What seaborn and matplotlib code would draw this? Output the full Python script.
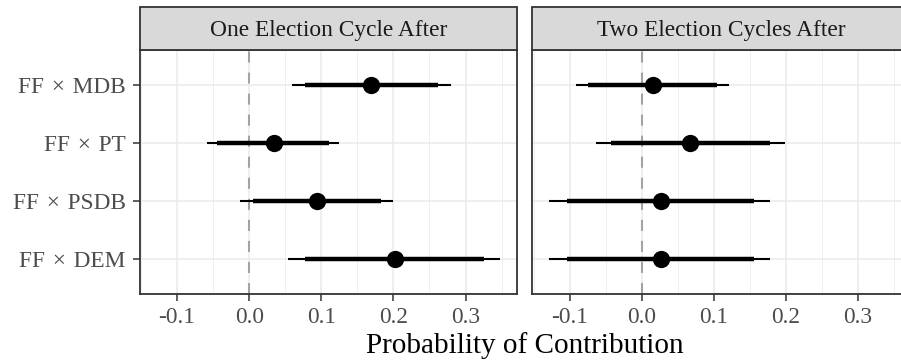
import matplotlib
matplotlib.use("Agg")
import matplotlib.pyplot as plt
import seaborn as sns
import pandas as pd
import numpy as np
from matplotlib.patches import Rectangle

# ---- data ----
categories = ["FF\u2004×\u2004MDB", "FF\u2004×\u2004PT", "FF\u2004×\u2004PSDB", "FF\u2004×\u2004DEM"]
panels = ["One Election Cycle After", "Two Election Cycles After"]

est_one = [0.169, 0.034, 0.094, 0.202]
lo_outer_one = [0.059, -0.058, -0.013, 0.054]
hi_outer_one = [0.280, 0.125, 0.200, 0.348]
lo_inner_one = [0.077, -0.044, 0.005, 0.078]
hi_inner_one = [0.262, 0.111, 0.183, 0.325]

est_two = [0.016, 0.067, 0.026, 0.026]
lo_outer_two = [-0.091, -0.064, -0.128, -0.128]
hi_outer_two = [0.121, 0.198, 0.178, 0.178]
lo_inner_two = [-0.074, -0.043, -0.103, -0.103]
hi_inner_two = [0.104, 0.178, 0.155, 0.155]

x_ticks = [-0.1, 0.0, 0.1, 0.2, 0.3]
x_ticklabels = ["-0.1", "0.0", "0.1", "0.2", "0.3"]
x_title = "Probability of Contribution"

frames = []
for p, est, lo95, hi95, lo90, hi90 in [
    (panels[0], est_one, lo_outer_one, hi_outer_one, lo_inner_one, hi_inner_one),
    (panels[1], est_two, lo_outer_two, hi_outer_two, lo_inner_two, hi_inner_two),
]:
    frames.append(pd.DataFrame({
        "panel": p, "term": categories, "pos": np.arange(len(categories)),
        "est": est, "lo95": lo95, "hi95": hi95, "lo90": lo90, "hi90": hi90,
    }))
df = pd.concat(frames, ignore_index=True)

# ---- style ----
sns.set_theme(style="white")
plt.rcParams["font.family"] = ["Liberation Serif", "DejaVu Serif"]

W, H = 901, 362
fig = plt.figure(figsize=(W / 100, H / 100), dpi=100)

panel_w = 377.6
lefts = [139.7, 532.3]
top_px, bot_px = 50.0, 294.0
strip_h = 43.3

dmin = df["lo95"].min()
dmax = df["hi95"].max()
rng = dmax - dmin
xlim = (dmin - 0.05 * rng, dmax + 0.05 * rng)

border_col = "#333333"
for i, p in enumerate(panels):
    ax = fig.add_axes([lefts[i] / W, (H - bot_px) / H, panel_w / W, (bot_px - top_px) / H])
    sub = df[df["panel"] == p]
    ax.set_xlim(*xlim)
    ax.set_ylim(len(categories) - 0.4, -0.6)

    # grid
    ax.set_xticks(x_ticks)
    ax.set_xticks(np.arange(-0.15, 0.40, 0.1), minor=True)
    ax.set_yticks(np.arange(len(categories)))
    ax.grid(which="major", color="#EBEBEB", linewidth=1.1)
    ax.grid(which="minor", axis="x", color="#EBEBEB", linewidth=0.55)
    ax.set_axisbelow(True)

    ax.axvline(0, color="#A3A3A3", linewidth=1.5, linestyle=(0, (5.3, 4.8)), zorder=1)

    ax.hlines(sub["pos"], sub["lo95"], sub["hi95"], color="black", linewidth=1.5,
              capstyle="butt", zorder=2)
    ax.hlines(sub["pos"], sub["lo90"], sub["hi90"], color="black", linewidth=3.2,
              capstyle="butt", zorder=3)
    sns.scatterplot(data=sub, x="est", y="pos", ax=ax, color="black", s=155,
                    linewidth=0, zorder=4, legend=False)

    ax.set_xlabel("")
    ax.set_ylabel("")
    ax.set_xticklabels(x_ticklabels)
    ax.tick_params(axis="x", which="major", length=5, width=1.1, color=border_col,
                   labelsize=16.8, labelcolor="#4D4D4D", pad=4.5, bottom=True)
    ax.tick_params(axis="x", which="minor", length=0)
    if i == 0:
        ax.set_yticklabels(categories)
        ax.tick_params(axis="y", length=5, width=1.1, color=border_col,
                       labelsize=16.8, labelcolor="#4D4D4D", pad=5, left=True)
    else:
        ax.set_yticklabels([])
        ax.tick_params(axis="y", length=0)

    for s in ax.spines.values():
        s.set_color(border_col)
        s.set_linewidth(1.3)
        s.set_visible(True)

    # strip
    sh = strip_h / (bot_px - top_px)
    ax.add_patch(Rectangle((0, 1), 1, sh, transform=ax.transAxes, facecolor="#D9D9D9",
                           edgecolor=border_col, linewidth=1.3, clip_on=False, zorder=5))
    ax.text(0.5, 1 + sh / 2, p, transform=ax.transAxes, ha="center", va="center_baseline",
            fontsize=16.8, color="#1A1A1A", zorder=6)

fig.text((lefts[0] + lefts[1] + panel_w) / 2 / W, (H - 353) / H, x_title,
         ha="center", va="baseline", fontsize=21, color="black")

fig.savefig("out.png", dpi=100)
